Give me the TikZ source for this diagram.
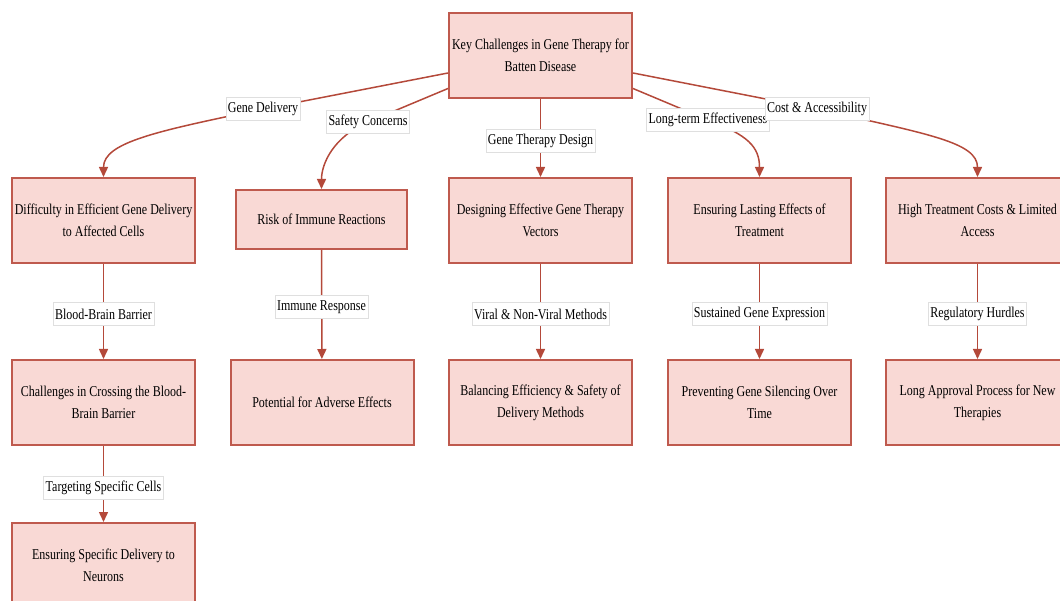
\documentclass[tikz,border=0pt]{standalone}
\usepackage{fontspec}
\setmainfont{Liberation Serif}[FakeStretch=0.8]
\usepackage{tikz}
\usetikzlibrary{arrows.meta}
\definecolor{boxfill}{HTML}{F9D9D5}
\definecolor{boxline}{HTML}{BF5A4E}
\definecolor{edgeline}{HTML}{B4493A}

\begin{document}
\begin{tikzpicture}[x=1pt,y=-1pt,
    box/.style={draw=boxline,fill=boxfill,line width=2pt,minimum width=183pt,minimum height=85pt,
      align=center,inner sep=0pt,font=\fontsize{15}{22}\selectfont},
    edge/.style={draw=edgeline,line width=1.5pt,-{Triangle[length=10pt,width=9pt]}},
    lbl/.style={fill=white,draw=gray!25,line width=0.5pt,inner xsep=2pt,inner ysep=0pt,minimum height=23pt,
      font=\fontsize{15}{17}\selectfont}]
			\useasboundingbox (0,0) rectangle (1060,601);
			% boxes
			\node[box] (root) at (540.5,55.5) {Key Challenges in Gene Therapy for\\Batten Disease};
			\node[box] (delivery) at (103.5,220.5) {Difficulty in Efficient Gene Delivery\\to Affected Cells};
			\node[box,minimum width=171pt,minimum height=59pt] (immune) at (321.5,219.5) {Risk of Immune Reactions};
			\node[box] (design) at (540.5,220.5) {Designing Effective Gene Therapy\\Vectors};
			\node[box] (lasting) at (759.5,220.5) {Ensuring Lasting Effects of\\Treatment};
			\node[box] (costs) at (977.5,220.5) {High Treatment Costs \& Limited\\Access};
			\node[box] (bbb) at (103.5,402.5) {Challenges in Crossing the Blood-\\Brain Barrier};
			\node[box] (adverse) at (322,402.5) {Potential for Adverse Effects};
			\node[box] (balance) at (540.5,402.5) {Balancing Efficiency \& Safety of\\Delivery Methods};
			\node[box] (silencing) at (759.5,402.5) {Preventing Gene Silencing Over\\Time};
			\node[box] (approval) at (977.5,402.5) {Long Approval Process for New\\Therapies};
			\node[box] (neurons) at (103.5,565.5) {Ensuring Specific Delivery to\\Neurons};
			% label spots
			\coordinate (lGD) at (263,109);
			\coordinate (lSC) at (368,122);
			\coordinate (lTD) at (540.5,141);
			\coordinate (lLE) at (708,120);
			\coordinate (lCA) at (817,109);
			\coordinate (lBB) at (103.5,314);
			\coordinate (lIR) at (321.5,307);
			\coordinate (lVM) at (540.5,314);
			\coordinate (lSG) at (759.5,314);
			\coordinate (lRH) at (977.5,314);
			\coordinate (lTS) at (103.5,488);
			% edges
			\draw[edge] ([yshift=-17.5pt]root.west) -- (lGD) .. controls +(-105,22) and +(0,-35) .. (delivery.north);
			\draw[edge] ([yshift=-33pt]root.west) -- (lSC) .. controls +(-35,15) and +(0,-25) .. (immune.north);
			\draw[edge] (root) -- (design);
			\draw[edge] ([yshift=-33pt]root.east) -- (lLE) .. controls +(40,15) and +(0,-30) .. (lasting.north);
			\draw[edge] ([yshift=-17.5pt]root.east) -- (lCA) .. controls +(110,25) and +(0,-35) .. (costs.north);
			\draw[edge] (delivery) -- (bbb);
			\draw[edge] (bbb) -- (neurons);
			\draw[edge] (immune) -- (adverse);
			\draw[edge] (design) -- (balance);
			\draw[edge] (lasting) -- (silencing);
			\draw[edge] (costs) -- (approval);
			% labels
			\node[lbl] at (lGD) {Gene Delivery};
			\node[lbl] at (lSC) {Safety Concerns};
			\node[lbl] at (lTD) {Gene Therapy Design};
			\node[lbl] at (lLE) {Long-term Effectiveness};
			\node[lbl] at (lCA) {Cost \& Accessibility};
			\node[lbl] at (lBB) {Blood-Brain Barrier};
			\node[lbl] at (lIR) {Immune Response};
			\node[lbl] at (lVM) {Viral \& Non-Viral Methods};
			\node[lbl] at (lSG) {Sustained Gene Expression};
			\node[lbl] at (lRH) {Regulatory Hurdles};
			\node[lbl] at (lTS) {Targeting Specific Cells};
		\end{tikzpicture}
\end{document}
